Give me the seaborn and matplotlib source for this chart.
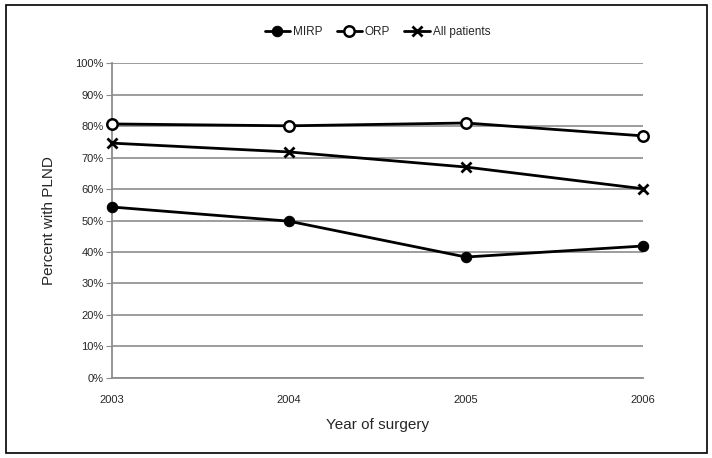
import matplotlib
matplotlib.use("Agg")
import matplotlib.pyplot as plt
import seaborn as sns
import pandas as pd
from matplotlib.patches import Rectangle
from matplotlib.ticker import PercentFormatter

years = [2003, 2004, 2005, 2006]
mirp = [54.3, 49.8, 38.4, 41.9]
orp = [80.7, 80.1, 81.0, 76.9]
all_patients = [74.6, 71.8, 67.0, 60.1]

df = pd.DataFrame({
    "year": years * 3,
    "pct": mirp + orp + all_patients,
    "group": ["MIRP"] * 4 + ["ORP"] * 4 + ["All patients"] * 4,
})

sns.set_style("white")
plt.rcParams["font.family"] = ["Liberation Sans", "DejaVu Sans"]

fig = plt.figure(figsize=(7.12, 4.58), dpi=100)
ax = fig.add_axes([0.157, 0.175, 0.746, 0.687])

# outer frame
fig.patches.append(Rectangle((0.008, 0.012), 0.985, 0.976, transform=fig.transFigure,
                             fill=False, edgecolor="black", linewidth=1.2))

styles = {
    "MIRP": dict(marker="o", mfc="black", ms=7.5),
    "ORP": dict(marker="o", mfc="white", ms=7.5, mew=1.8),
    "All patients": dict(marker="x", mfc="black", ms=7, mew=2),
}
for name in ["MIRP", "ORP", "All patients"]:
    sub = df[df["group"] == name]
    sns.lineplot(data=sub, x="year", y="pct", ax=ax, color="black", lw=2,
                 mec="black", label=name, zorder=3, **styles[name])
for ln in ax.lines:
    ln.set_clip_on(False)

ax.set_xlim(2003, 2006)
ax.set_ylim(0, 100)
ax.set_xticks(years)
ax.set_yticks(range(0, 101, 10))
ax.yaxis.set_major_formatter(PercentFormatter(decimals=0))
ax.grid(axis="y", color="#8c8c8c", lw=1.2)
ax.grid(axis="x", visible=False)
for s in ["top", "right"]:
    ax.spines[s].set_visible(False)
ax.spines["left"].set_color("#8c8c8c")
ax.spines["left"].set_linewidth(1.3)
ax.spines["bottom"].set_color("#8c8c8c")
ax.spines["bottom"].set_linewidth(1.3)
ax.tick_params(axis="y", left=True, length=4, color="#8c8c8c", labelsize=8, pad=2)
ax.tick_params(axis="x", bottom=False, labelsize=8, pad=9)
ax.set_xlabel("Year of surgery", fontsize=11, labelpad=9)
ax.set_ylabel("Percent with PLND", fontsize=11, labelpad=14)

ax.legend(loc="center", bbox_to_anchor=(0.5, 1.099), ncol=3, frameon=False,
          fontsize=8.5, handlelength=2.2, handletextpad=0.2, columnspacing=1.2)

fig.savefig("out.png", dpi=100)
